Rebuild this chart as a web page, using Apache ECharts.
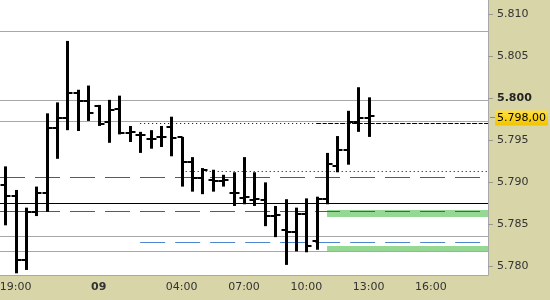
<!DOCTYPE html>
<html><head><meta charset="utf-8">
<script src="https://cdn.jsdelivr.net/npm/echarts@6/dist/echarts.min.js"></script>
<style>html,body{margin:0;padding:0;background:#D8D5A8}#c{width:550px;height:300px}</style>
</head><body><div id="c"></div>
<script>
const categories = ['18:30','19:00','19:30','20:00','20:30','21:00','21:30','22:00','22:30',
  '00:00','00:30','01:00','01:30','02:00','02:30','03:00','03:30','04:00','04:30','05:00','05:30',
  '06:00','06:30','07:00','07:30','08:00','08:30','09:00','09:30','10:00','10:30','11:00','11:30',
  '12:00','12:30','13:00','13:30','14:00','14:30','15:00','15:30','16:00','16:30','17:00','17:30',
  '18:00','18:31'];
const opens  = [5.7897,5.7884,5.7808,5.7865,5.7887,5.7965,5.7976,5.8006,5.7997,5.7991,5.7972,5.7987,
  5.7959,5.7956,5.7952,5.7954,5.7966,5.7954,5.7924,5.7905,5.7903,5.7902,5.7887,5.7881,5.7879,5.7879,
  5.7860,5.7843,5.7841,5.7862,5.7830,5.7880,5.7919,5.7938,5.7972,5.7976];
const highs  = [5.7919,5.7891,5.7870,5.7895,5.7982,5.7995,5.8068,5.8010,5.8015,5.7992,5.7998,5.8003,
  5.7967,5.7960,5.7962,5.7967,5.7978,5.7954,5.7930,5.7917,5.7915,5.7909,5.7912,5.7930,5.7912,5.7900,
  5.7872,5.7880,5.7870,5.7881,5.7883,5.7935,5.7955,5.7985,5.8013,5.8001];
const lows   = [5.7849,5.7792,5.7796,5.7860,5.7865,5.7928,5.7962,5.7961,5.7973,5.7967,5.7947,5.7957,
  5.7948,5.7935,5.7940,5.7942,5.7931,5.7895,5.7889,5.7886,5.7889,5.7895,5.7872,5.7874,5.7872,5.7848,
  5.7835,5.7802,5.7818,5.7817,5.7820,5.7874,5.7912,5.7921,5.7960,5.7954];
const closes = [5.7884,5.7808,5.7865,5.7887,5.7965,5.7976,5.8006,5.7997,5.7982,5.7969,5.7986,5.7959,
  5.7960,5.7956,5.7952,5.7954,5.7953,5.7924,5.7905,5.7915,5.7902,5.7903,5.7887,5.7883,5.7880,5.7860,
  5.7861,5.7841,5.7862,5.7824,5.7880,5.7922,5.7938,5.7972,5.7976,5.7979];
const yTicks = [5.780,5.785,5.790,5.795,5.800,5.805,5.810];
const xTickCats = ['19:00','22:00','00:00','01:00','04:00','07:00','10:00','13:00','16:00'];
const xLabelCats = ['19:00','00:00','04:00','07:00','10:00','13:00','16:00'];
const dayLabel = '09';
const lastPriceText = '5.798,00';
// level lines: [startCategoryIndex, value]
const grayLevels = [[0,5.80798],[0,5.79978],[0,5.79725],[0,5.78362],[0,5.78188]];
const blackLevels = [[0,5.78751]];
const dottedLevels = [[13,5.7971],[17,5.79135]];
const dashedBlackLevels = [[30,5.7971]];
const redDashLevels = [[0,5.78663],[25,5.7906]];
const blueDashLevels = [[13,5.78291]];
const greenBands = [[31,5.78589,5.78672],[31,5.78185,5.78244]];

const ohlc = opens.map((o,i)=>[i,o,highs[i],lows[i],closes[i]]);
const lastIdx = closes.length-1;

function levelSeries(data, color, dash, fromLeft){
  return {
    type:'custom', data:data, encode:{x:0,y:1}, silent:true, clip:true, z:2,
    renderItem:function(params, api){
      const cs = params.coordSys;
      const p = api.coord([api.value(0), api.value(1)]);
      const y = Math.round(p[1]) + 0.5;
      const x0 = fromLeft ? cs.x : p[0];
      const st = {stroke:color, lineWidth:1, fill:null};
      if (dash) st.lineDash = dash;
      return {type:'line', shape:{x1:x0,y1:y,x2:cs.x+cs.width,y2:y}, style:st};
    }
  };
}

const chart = echarts.init(document.getElementById('c'), null, {renderer:'canvas'});
chart.setOption({
  animation:false,
  backgroundColor:'#D8D5A8',
  textStyle:{fontFamily:'DejaVu Sans'},
  grid:{left:0,right:62,top:0,bottom:25,show:true,backgroundColor:'#FFFFFF',borderWidth:0,
    outerBoundsMode:'none', containLabel:false},
  xAxis:{
    type:'category', data:categories, boundaryGap:true,
    axisLine:{lineStyle:{color:'#A8A8A8',width:1}},
    axisTick:{alignWithLabel:true, length:4, interval:(i,v)=>xTickCats.indexOf(v)>=0, lineStyle:{color:'#A8A8A0'}},
    axisLabel:{interval:(i,v)=>xLabelCats.indexOf(v)>=0, margin:7, fontSize:11, color:'#333',
      formatter:v=> v==='00:00' ? '{b|'+dayLabel+'}' : v,
      rich:{b:{fontWeight:'bold',fontSize:11,color:'#333'}}},
    splitLine:{show:false}
  },
  yAxis:{
    type:'value', position:'right', min:5.779, max:5.81166, scale:true,
    axisLine:{show:true,lineStyle:{color:'#A8A8A8'}},
    axisTick:{show:true,length:5,customValues:yTicks,lineStyle:{color:'#999'}},
    axisLabel:{customValues:yTicks, margin:9, fontSize:11, color:'#333',
      formatter:v=> Math.abs(v-5.8)<1e-9 ? '{b|'+v.toFixed(3)+'}' : v.toFixed(3),
      rich:{b:{fontWeight:'bold',fontSize:11,color:'#222'}}},
    splitLine:{show:false}
  },
  series:[
    {
      type:'custom', data:greenBands, encode:{x:0,y:[1,2]}, silent:true, z:1,
      renderItem:function(params, api){
        const cs = params.coordSys;
        const a = api.coord([api.value(0), api.value(1)]);
        const b = api.coord([api.value(0), api.value(2)]);
        return {type:'rect', shape:{x:a[0], y:b[1], width:cs.x+cs.width-a[0], height:a[1]-b[1]}, style:{fill:'#94D894'}};
      }
    },
    levelSeries(grayLevels,'#A8A8A8',null,true),
    levelSeries(blackLevels,'#000000',null,true),
    levelSeries(dottedLevels,'#000000',[1,3],false),
    levelSeries(dashedBlackLevels,'#000000',[4,2],false),
    levelSeries(redDashLevels,'#D02828',[25,10],true),
    levelSeries(blueDashLevels,'#4F86D0',[25,10],false),
    {
      type:'custom', data:ohlc, encode:{x:0,y:[1,2,3,4]}, z:5, clip:true,
      renderItem:function(params, api){
        const i = api.value(0);
        const pO = api.coord([i, api.value(1)]);
        const pH = api.coord([i, api.value(2)]);
        const pL = api.coord([i, api.value(3)]);
        const pC = api.coord([i, api.value(4)]);
        const x = Math.round(pO[0]) + 0.5;
        const yo = Math.round(pO[1]), yc = Math.round(pC[1]);
        return {type:'group', children:[
          {type:'line', shape:{x1:x,y1:pH[1],x2:x,y2:pL[1]}, style:{stroke:'#000',lineWidth:3}},
          {type:'line', shape:{x1:x-5,y1:yo,x2:x,y2:yo}, style:{stroke:'#000',lineWidth:2}},
          {type:'line', shape:{x1:x,y1:yc,x2:x+5,y2:yc}, style:{stroke:'#000',lineWidth:2}}
        ]};
      }
    },
    {
      type:'custom', data:[[lastIdx, closes[lastIdx]]], encode:{x:0,y:1}, z:10, clip:false, silent:true,
      renderItem:function(params, api){
        const cs = params.coordSys;
        const p = api.coord([api.value(0), api.value(1)]);
        const xr = cs.x + cs.width;
        const y = Math.round(p[1]) + 1.5;
        return {type:'group', children:[
          {type:'line', shape:{x1:xr+2,y1:y,x2:xr+7,y2:y}, style:{stroke:'#888',lineWidth:1}},
          {type:'rect', shape:{x:xr+7, y:y-7, width:53, height:15},
            style:{fill:new echarts.graphic.LinearGradient(0,0,0,1,[{offset:0,color:'#FFE040'},{offset:1,color:'#F2C400'}])}},
          {type:'text', x:xr+9, y:y+0.5, style:{text:lastPriceText, fill:'#000', font:'11px "DejaVu Sans"', verticalAlign:'middle', align:'left'}}
        ]};
      }
    }
  ]
});
</script></body></html>
